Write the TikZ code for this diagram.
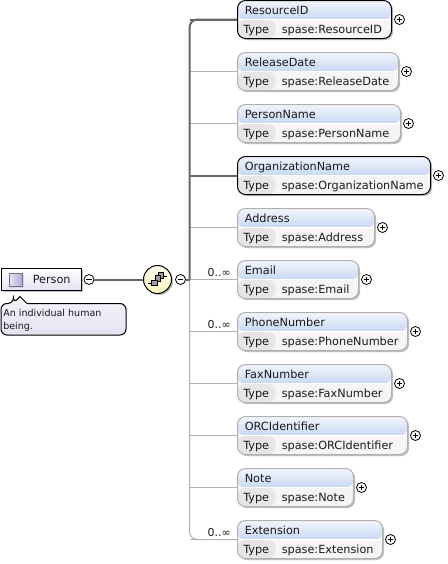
\documentclass[tikz,border=0pt]{standalone}
\usepackage{fontspec}
\setmainfont{DejaVu Sans}
\usetikzlibrary{calc, positioning, shadows}
\definecolor{hdrtop}{HTML}{F2F6FD}
\definecolor{hdrbot}{HTML}{C6D8F3}
\definecolor{typecell}{HTML}{E6E6E6}
\definecolor{valcell}{HTML}{F5F5F5}
\definecolor{optline}{HTML}{B0B0B0}
\definecolor{reqline}{HTML}{666666}
\definecolor{noteback}{HTML}{E6E2F3}
\definecolor{seqyellow}{HTML}{FBF6C0}
\definecolor{icongrey}{HTML}{9C9C9C}
\definecolor{iconlilac}{HTML}{B5A8DC}
\tikzset{
  softshadow/.style = {drop shadow={shadow xshift=1.2pt, shadow yshift=-1.2pt,
                       fill=black, opacity=0.25}},
  elembox/.style   = {rectangle, rounded corners=6pt, minimum height=28.5pt,
                      inner sep=0pt, line width=0.75pt, softshadow,
    path picture={
      \fill[valcell] (path picture bounding box.south west) rectangle (path picture bounding box.north east);
      \fill[typecell] (path picture bounding box.south west) rectangle ([xshift=28.5pt]path picture bounding box.west);
      \shade[top color=hdrtop, bottom color=hdrbot] (path picture bounding box.west) rectangle (path picture bounding box.north east);
      \draw[white, line width=0.6pt] (path picture bounding box.west) -- (path picture bounding box.east);}},
  optbox/.style    = {elembox, draw=optline},
  reqbox/.style    = {elembox, draw=black},
  boxtext/.style   = {font=\fontsize{8.45pt}{10pt}\selectfont, anchor=base west, inner sep=0pt, text=black!90},
  notetext/.style  = {font=\fontsize{7.15pt}{9pt}\selectfont, anchor=base west, inner sep=0pt, text=black!90},
  optlink/.style   = {draw=optline, line width=0.75pt},
  reqlink/.style   = {draw=reqline, line width=1.5pt},
  expander/.style  = {circle, draw=black, fill=white, line width=0.6pt, minimum size=7.5pt, inner sep=0pt},
  expplus/.style   = {expander, path picture={
      \draw[line width=0.6pt] ([xshift=-1.9pt]path picture bounding box.center) -- ([xshift=1.9pt]path picture bounding box.center);
      \draw[line width=0.6pt] ([yshift=-1.9pt]path picture bounding box.center) -- ([yshift=1.9pt]path picture bounding box.center);}},
  expminus/.style  = {expander, path picture={
      \draw[line width=0.6pt] ([xshift=-1.9pt]path picture bounding box.center) -- ([xshift=1.9pt]path picture bounding box.center);}},
  multlab/.style   = {font=\fontsize{8.2pt}{10pt}\selectfont, anchor=base east, inner sep=0pt, text=black!90},
  seqnode/.style   = {circle, draw=black, line width=0.75pt, minimum size=21pt, inner sep=0pt,
                      top color=seqyellow!35, bottom color=seqyellow, softshadow},
  iconsq/.style    = {draw=black, fill=icongrey, line width=0.5pt},
}
% name, top, right edge, title, type, line style, box style
\newcommand{\xsdelem}[7]{%
  \node[#7, minimum width={(#3-237)*0.75pt}, anchor=west] (#1) at (237,#2+19) {};
  \node[boxtext] (#1title) at (244.5,#2+14) {#4};
  \node[boxtext] (#1type) at (243,#2+33) {Type};
  \node[boxtext] (#1value) at (281.5,#2+33) {#5};
  \node[expplus] (#1plus) at (#3+8.5,#2+19) {};
  \draw[#6] (trunk |- #1.west) -- (#1.west);}
\begin{document}
\begin{tikzpicture}[x=0.75pt, y=-0.75pt]
  \useasboundingbox (0,0) rectangle (447,564);
  \fill[white] (0,0) rectangle (447,564);
  \coordinate (trunk) at (189.5,279.5);
  % trunk lines first, then the elements on top
  \draw[optlink, rounded corners=6pt] (trunk) -- (189.5,539.5) -- (237,539.5);
  \xsdelem{address}{208.5}{374}{Address}{spase:Address}{optlink}{optbox}
  \xsdelem{email}{260.5}{358}{Email}{spase:Email}{optlink}{optbox}
  \xsdelem{phone}{312.5}{407}{PhoneNumber}{spase:PhoneNumber}{optlink}{optbox}
  \xsdelem{fax}{364.5}{391}{FaxNumber}{spase:FaxNumber}{optlink}{optbox}
  \xsdelem{orcid}{416.5}{407}{ORCIdentifier}{spase:ORCIdentifier}{optlink}{optbox}
  \xsdelem{note}{468.5}{353}{Note}{spase:Note}{optlink}{optbox}
  \xsdelem{extension}{520.5}{382}{Extension}{spase:Extension}{optlink}{optbox}
  \xsdelem{reldate}{52.5}{398}{ReleaseDate}{spase:ReleaseDate}{optlink}{optbox}
  \xsdelem{personname}{104.5}{400}{PersonName}{spase:PersonName}{optlink}{optbox}
  \draw[reqlink, rounded corners=6pt] (trunk) -- (189.5,19.5) -- (237,19.5);
  \xsdelem{resource}{0.5}{391}{ResourceID}{spase:ResourceID}{reqlink}{reqbox}
  \xsdelem{orgname}{156.5}{430}{OrganizationName}{spase:OrganizationName}{reqlink}{reqbox}
  \node[multlab] (emailmult) at (231,276) {0..∞};
  \node[multlab] (phonemult) at (231,328) {0..∞};
  \node[multlab] (extmult) at (231,536) {0..∞};
  % root element and its annotation
  \node[rectangle, draw=black, line width=0.75pt, minimum width=60pt, minimum height=17pt,
        inner sep=0pt, top color=white, bottom color=noteback, softshadow] (person) at (41,279.5) {};
  \fill[iconlilac, opacity=0.35] (11,275) rectangle (24,288);
  \draw[draw=black!55, left color=iconlilac!35, right color=iconlilac, line width=0.5pt] (9.5,273.5) rectangle (22,286);
  \node[boxtext] (persontitle) at (32.5,283) {Person};
  \node[expminus] (personminus) at (89,279.5) {};
  \node[seqnode] (seq) at (157.5,279.5) {};
  \node[expminus] (seqminus) at (180.5,279.5) {};
  \draw[reqlink] (personminus) -- (seq);
  \draw[reqlink] (seqminus) -- (trunk);
  \draw[line width=0.6pt] (148,283) -- (152,283) (162,276) -- (167,276);
  \fill[iconsq] (158,272.5) rectangle (163.5,278);
  \fill[iconsq] (155,275.5) rectangle (160.5,281);
  \fill[iconsq] (151.5,280) rectangle (157.5,285.5);
  \draw[draw=black, top color=noteback!40, bottom color=noteback, line width=0.75pt]
    (13.5,303.5) -- (20,296.5) -- (27,303.5) [rounded corners=4.5pt]
    -- (126,303.5) -- (126,335) -- (1,335) -- (1,303.5) -- (13.5,303.5) -- cycle;
  \node[notetext] (noteline1) at (3,316) {An individual human};
  \node[notetext] (noteline2) at (3,329.5) {being.};
\end{tikzpicture}
\end{document}
